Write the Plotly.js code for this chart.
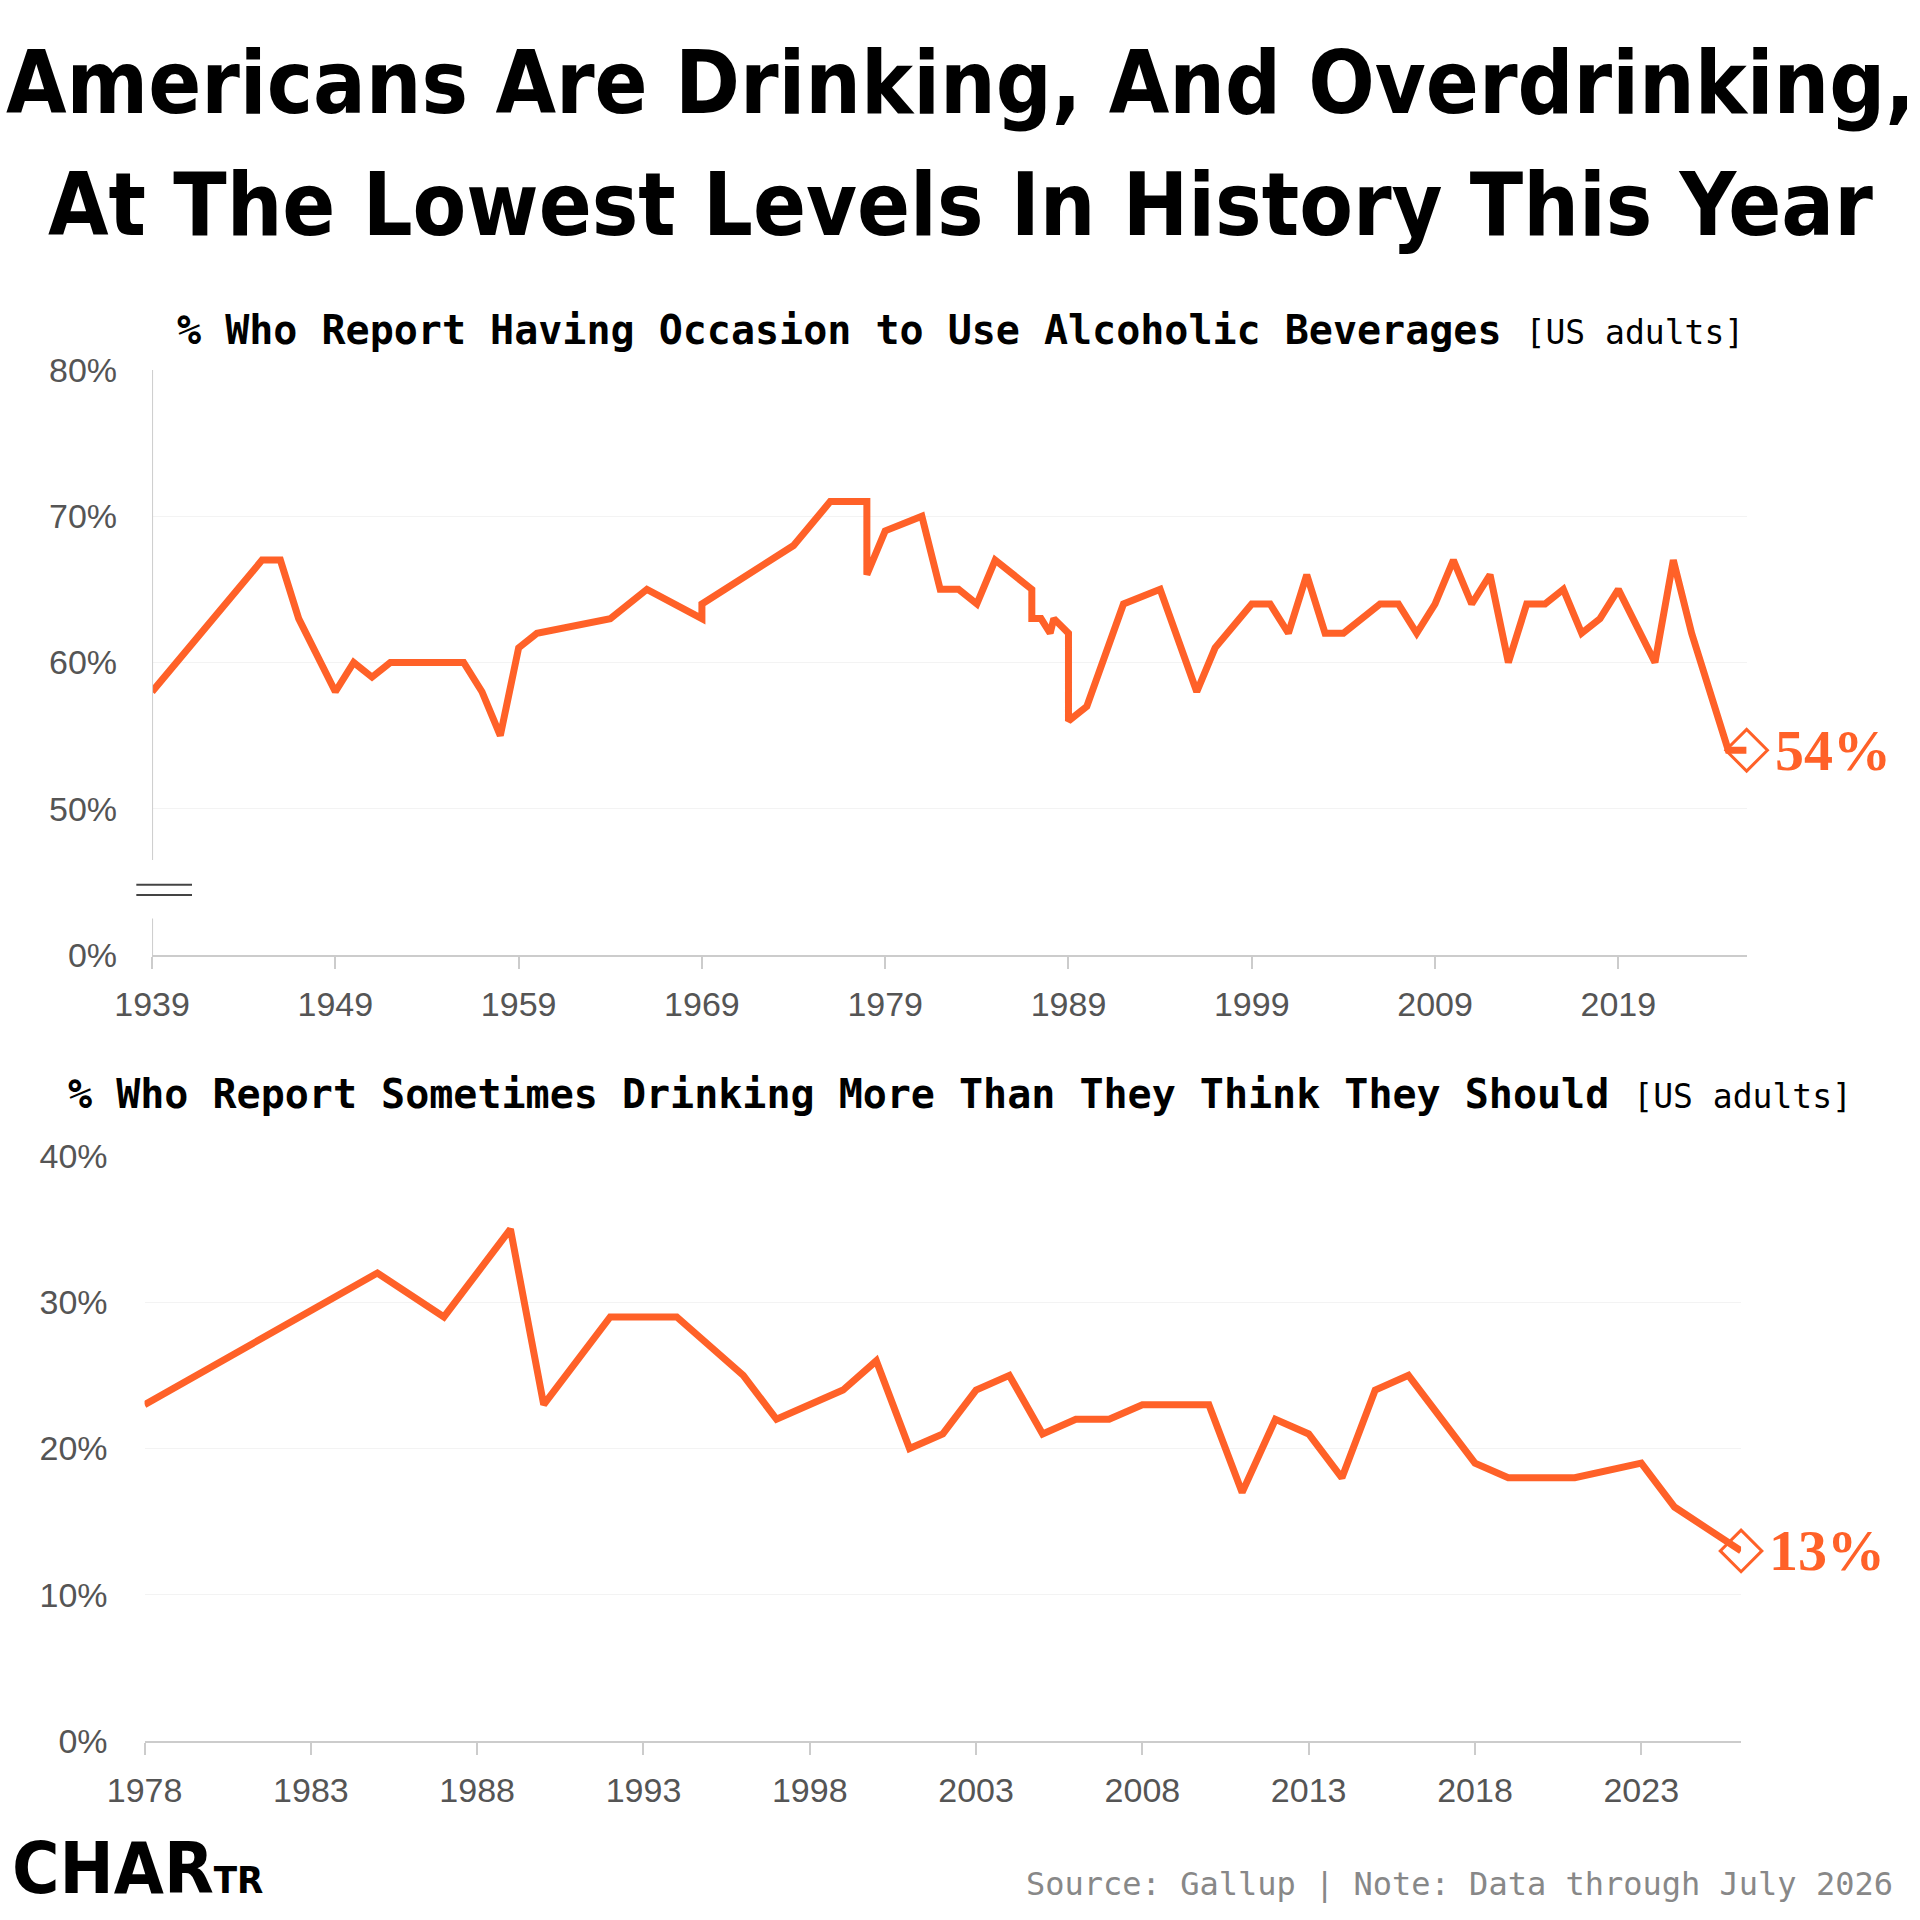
<!DOCTYPE html>
<html><head><meta charset="utf-8">
<script src="https://cdn.plot.ly/plotly-3.0.1.min.js"></script>
<style>body{margin:0;background:#fff}#c{width:1920px;height:1920px}</style>
</head><body><div id="c"></div>
<script>
const yearsA=[1939,1945,1946,1947,1949,1950,1951,1952,1956,1957,1958,1959,1960,1964,1966,1969,1969,1974,1976,1978,1978,1979,1981,1982,1983,1984,1985,1987,1987,1987.5,1988,1988.2,1989,1989,1990,1992,1994,1996,1997,1999,2000,2001,2002,2003,2004,2006,2007,2008,2009,2010,2011,2012,2013,2014,2015,2016,2017,2018,2019,2021,2022,2023,2025,2026];
const valsA=[58,67,67,63,58,60,59,60,60,58,55,61,62,63,65,63,64,68,71,71,66,69,70,65,65,64,67,65,63,63,62,63,62,56,57,64,65,58,61,64,64,62,66,62,62,64,64,62,64,67,64,66,60,64,64,65,62,63,65,60,67,62,54,54];
const yearsB=[1978,1985,1987,1989,1990,1992,1994,1996,1997,1999,2000,2001,2002,2003,2004,2005,2006,2007,2008,2009,2010,2011,2012,2013,2014,2015,2016,2018,2019,2021,2023,2024,2025,2026];
const valsB=[23,32,29,35,23,29,29,25,22,24,26,20,21,24,25,21,22,22,23,23,23,17,22,21,18,24,25,19,18,18,19,16,14.5,13];
const ticksA=[1939,1949,1959,1969,1979,1989,1999,2009,2019];
const ticksB=[1978,1983,1988,1993,1998,2003,2008,2013,2018,2023];
const OR='#ff6128';
const tickFont={family:'Liberation Sans, Arial',size:34,color:'#555'};
const nA=yearsA.length-1,nB=yearsB.length-1;
const mk={symbol:'diamond-open',size:32,color:OR,line:{width:3,color:OR}};
const data=[
{x:yearsA,y:valsA,mode:'lines',line:{color:OR,width:7},xaxis:'x',yaxis:'y',cliponaxis:false},
{x:[yearsA[nA]],y:[valsA[nA]],mode:'markers',marker:mk,xaxis:'x',yaxis:'y',cliponaxis:false},
{x:yearsB,y:valsB,mode:'lines',line:{color:OR,width:7},xaxis:'x2',yaxis:'y2',cliponaxis:false},
{x:[yearsB[nB]],y:[valsB[nB]],mode:'markers',marker:mk,xaxis:'x2',yaxis:'y2',cliponaxis:false}
];
const ax={showline:true,linecolor:'#ccc',linewidth:2,ticks:'outside',tickcolor:'#ccc',ticklen:12,tickwidth:2,showgrid:false,tickfont:tickFont,zeroline:false,fixedrange:true,ticklabelstandoff:6};
const layout={width:1920,height:1920,margin:{l:0,r:0,t:0,b:0},showlegend:false,paper_bgcolor:'#fff',plot_bgcolor:'#fff',
xaxis:Object.assign({},ax,{domain:[0.0792,0.9097],range:[1939,2026],tickvals:ticksA,ticktext:ticksA.map(String),anchor:'y'}),
yaxis:{domain:[0.5026,0.8073],range:[40,80],tickvals:[40,50,60,70,80],ticktext:['0%','50%','60%','70%','80%'],showgrid:true,gridcolor:'#f3f3f3',gridwidth:1,tickfont:tickFont,zeroline:false,showline:false,ticks:'',ticklabelstandoff:34,anchor:'x'},
xaxis2:Object.assign({},ax,{domain:[0.0753,0.9068],range:[1978,2026],tickvals:ticksB,ticktext:ticksB.map(String),anchor:'y2'}),
yaxis2:{domain:[0.0932,0.3979],range:[0,40],tickvals:[0,10,20,30,40],ticktext:['0%','10%','20%','30%','40%'],showgrid:true,gridcolor:'#f3f3f3',tickfont:tickFont,zeroline:false,showline:false,ticks:'',ticklabelstandoff:36,anchor:'x2'},
shapes:[
{type:'line',xref:'x',yref:'y',x0:1939,x1:1939,y0:46.5,y1:80,line:{color:'#ccc',width:2}},
{type:'line',xref:'x',yref:'y',x0:1939,x1:1939,y0:40,y1:42.5,line:{color:'#ccc',width:2}},
{type:'line',xref:'paper',yref:'y',x0:0.071,x1:0.1,y0:44.8,y1:44.8,line:{color:'#444',width:2}},
{type:'line',xref:'paper',yref:'y',x0:0.071,x1:0.1,y0:44.1,y1:44.1,line:{color:'#444',width:2}}
],
annotations:[
{xref:'paper',yref:'paper',x:0.5,y:0.957,yanchor:'middle',text:'Americans Are Drinking, And Overdrinking,',showarrow:false,font:{family:'DejaVu Sans Condensed',size:87,color:'#000',weight:700}},
{xref:'paper',yref:'paper',x:0.5,y:0.893,yanchor:'middle',text:'At The Lowest Levels In History This Year',showarrow:false,font:{family:'DejaVu Sans Condensed',size:87,color:'#000',weight:700}},
{xref:'paper',yref:'paper',x:0.5,y:0.828,yanchor:'middle',text:'<b>% Who Report Having Occasion to Use Alcoholic Beverages</b> <span style="font-size:33px">[US adults]</span>',showarrow:false,font:{family:'DejaVu Sans Mono',size:40,color:'#000'}},
{xref:'paper',yref:'paper',x:0.5,y:0.430,yanchor:'middle',text:'<b>% Who Report Sometimes Drinking More Than They Think They Should</b> <span style="font-size:33px">[US adults]</span>',showarrow:false,font:{family:'DejaVu Sans Mono',size:40,color:'#000'}},
{xref:'x',yref:'y',x:2026,y:54,xanchor:'left',xshift:26,text:'<b>54%</b>',showarrow:false,font:{family:'Liberation Serif',size:58,color:OR}},
{xref:'x2',yref:'y2',x:2026,y:13,xanchor:'left',xshift:26,text:'<b>13%</b>',showarrow:false,font:{family:'Liberation Serif',size:58,color:OR}},
{xref:'paper',yref:'paper',x:0.005,y:0.027,yanchor:'middle',xanchor:'left',text:'<b>C</b><b>HAR</b><b style="font-size:38px">TR</b>',showarrow:false,font:{family:'DejaVu Sans Condensed',size:72,color:'#000'}},
{xref:'paper',yref:'paper',x:0.987,y:0.019,yanchor:'middle',xanchor:'right',text:'Source: Gallup | Note: Data through July 2026',showarrow:false,font:{family:'DejaVu Sans Mono',size:32,color:'#888'}}
]};
Plotly.newPlot('c',data,layout,{staticPlot:true});
</script></body></html>
